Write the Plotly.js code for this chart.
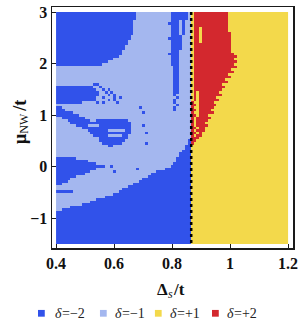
<!DOCTYPE html>
<html><head><meta charset="utf-8">
<script src="https://cdn.plot.ly/plotly-3.0.1.min.js"></script>
<style>html,body{margin:0;padding:0;background:#fff}#chart{width:299px;height:328px}</style>
</head><body><div id="chart"></div>
<script>
// Phase codes: A = δ=−2, B = δ=−1, C = δ=+1, D = δ=+2
const deltaCodes = {A: -2, B: -1, C: 1, D: 2};
const deltaSymbol = 'δ';
const deltaValues = ['=−2', '=−1', '=+1', '=+2'];
const deltaColors = ['#3152ea', '#a4b7ef', '#f3d94b', '#d3282e'];
const xStart = 0.4, xEnd = 1.2;   // Δs/t extent of the scan
const yTop = 3, yBottom = -1.5;   // μNW/t extent of the scan
const transitionDelta = 0.866;    // dotted line Δs/t
const xTicks = [0.4, 0.6, 0.8, 1, 1.2];
const xTickText = ['0.4', '0.6', '0.8', '1', '1.2'];
const yTicks = [-1, 0, 1, 2, 3];
const yTickText = ['−1', '0', '1', '2', '3'];
// Each row: run-length codes across 81 Δs columns, rows from μ=3 (top) down to μ=−1.5 (bottom)
const phaseRows = [
"A28B12A6B1C1D12C21",
"A28B12A6B1C1D12C21",
"A28B12A6B1C1D12C21",
"A27B13A3B1A1B2C1D12C21",
"A27B12A4B1A1B2C1D12C21",
"A27B13A3B1A1B2C1D12C21",
"A27B13A3B1A1B2C1D2C1D9C21",
"A27B13A3B1A1B2C1D2C1D9C21",
"A27B13A3B1A1B2C1D2C1D10C20",
"A26B14A4B3C1D2C1D10C20",
"A26B13A5B3C1D2C1D10C20",
"A25B15A4B3C1D2C1D10C20",
"A25B15A4B3C1D13C20",
"A24B16A4B3C1D13C20",
"A24B16A4B3C1D13C20",
"A23B17A3B4C1D13C20",
"A23B16A4B4C1D14C19",
"A22B18A3B4C1D15C18",
"A20B20A3B4C1D14C19",
"A18B22A3B4C1D15C18",
"A16B24A3B4C1D14C19",
"B41A2B4C1D15C18",
"B41A2B4C1D13C20",
"B41A2B4C1D14C19",
"B41A2B4C1D12C21",
"B41A2B4C1D13C20",
"B41A2B4C1D11C22",
"B41A2B4C1D12C21",
"B13A2B26A2B4C1D10C23",
"A13B2A1B25A2B4C1D11C22",
"A14B2A1B1A1B22A2B4C1D10C23",
"A15B2A1B1A1B21A2B4C1D1C1D7C24",
"A15B3A1B1A1B20A1B5C1D1C1D8C23",
"A14B2A1B3A1B1A1B19A1B4C1D1C1D6C25",
"A14B4A1B1A1B20A1B5C1D1C1D7C24",
"A9B5A1B1A1B4A1B19A1B5D1C2D5C26",
"B42A1B4D2C1D6C25",
"A2B27A1B11A1B5D1C2D5C26",
"A3B38A1B5D2C1D4C27",
"A6B24A1B16D1C2D5C26",
"A8B39D2C1D3C28",
"B2A8B37D1C1D5C27",
"B4A8B2A11B22D1C1D4C28",
"B5A21B21D1C1D3C29",
"B7A4B4A11B4A1B16D1C1D4C28",
"B9A17B21D2C1D2C29",
"B11A7B6A2B21D1C1D3C29",
"B12A14B5A1B15D2C1D1C30",
"B13A5B5A2B22D1C1D2C30",
"B15A10B22D3C31",
"B15A9B22A1D2C32",
"B16A7B8A1B14A1D1C33",
"B18A2B25A2C34",
"B45A2C34",
"B44A3C34",
"B43A4C34",
"B43A4C34",
"A7B35A5C34",
"A11B31A5C34",
"A14B27A6C34",
"A17B2A1B20A7C34",
"A14B14A1B9A9C34",
"A12B8A1B14A12C34",
"A10B23A14C34",
"A7B25A15C34",
"A5B25A17C34",
"A4B25A18C34",
"A2B25A20C34",
"B25A22C34",
"B23A24C34",
"A6B16A25C34",
"B20A27C34",
"B17A30C34",
"B14A33C34",
"B12A35C34",
"B9A38C34",
"B5A42C34",
"B2A45C34",
"A47C34","A47C34","A47C34","A47C34","A47C34","A47C34","A47C34",
"A47C34","A47C34","A47C34","A47C34","A47C34","A47C34"
];

function decodeRow(s) {
  const out = [];
  const re = /([A-D])(\d+)/g; let m;
  while ((m = re.exec(s)) !== null) {
    for (let k = 0; k < +m[2]; k++) out.push(deltaCodes[m[1]]);
  }
  return out;
}
const z = phaseRows.map(decodeRow).reverse(); // bottom row first
const nCols = z[0].length, nRows = z.length;
const dx = (xEnd - xStart) / nCols, dy = (yTop - yBottom) / nRows;

const cs = [
  [0, deltaColors[0]], [0.125, deltaColors[0]],
  [0.125, deltaColors[1]], [0.5, deltaColors[1]],
  [0.5, deltaColors[2]], [0.875, deltaColors[2]],
  [0.875, deltaColors[3]], [1, deltaColors[3]]
];

const trace = {
  type: 'heatmap', z: z,
  x0: xStart + dx / 2, dx: dx, y0: yBottom + dy / 2, dy: dy,
  zmin: -2, zmax: 2, colorscale: cs, showscale: false,
  zsmooth: false, hoverinfo: 'skip'
};

const serif = 'Liberation Serif, Times New Roman, serif';
const tickFont = {family: serif, size: 16, weight: 700, color: '#111'};
const axisCommon = {
  showgrid: false, zeroline: false, showline: true, mirror: true,
  linecolor: '#1a1a1a', linewidth: 1.5, ticks: 'inside', ticklen: 4, tickwidth: 1,
  tickcolor: '#1a1a1a', tickfont: tickFont, tickmode: 'array'
};

// legend key positions (paper fractions)
const legendKeyX = [-0.058, 0.199, 0.427, 0.664];
const legendTextX = [0.004, 0.253, 0.481, 0.718];
const legendY = -0.271, keySize = 0.028, symbolWidth = 0.03;

const ann = (o) => Object.assign({xref: 'paper', yref: 'paper', showarrow: false, yanchor: 'middle'}, o);
const boldFont = {family: serif, size: 17, weight: 700, color: '#111'};
const boldFontY = {family: serif, size: 18, weight: 700, color: '#111'};

const annotations = [];
deltaValues.forEach((v, k) => {
  annotations.push(ann({x: legendTextX[k], y: legendY, xanchor: 'left', text: deltaSymbol,
    font: {family: serif, size: 14, style: 'italic', color: '#222'}}));
  annotations.push(ann({x: legendTextX[k] + symbolWidth, y: legendY, xanchor: 'left', text: v,
    font: {family: serif, size: 14, color: '#222'}}));
});
// x-axis title  Δ_s/t
annotations.push(ann({x: 0.49, y: -0.172, xanchor: 'right', text: 'Δ', font: boldFont}));
annotations.push(ann({x: 0.473, y: -0.19, xanchor: 'left', text: 's',
  font: {family: serif, size: 12, style: 'italic', color: '#111'}}));
annotations.push(ann({x: 0.494, y: -0.172, xanchor: 'left', text: '/t', font: boldFont}));
// y-axis title  μ_NW/t (rotated)
annotations.push(ann({x: -0.133, y: 0.452, xanchor: 'center', textangle: -90, text: 'μ', font: boldFontY}));
annotations.push(ann({x: -0.117, y: 0.519, xanchor: 'center', textangle: -90, text: 'NW',
  font: {family: serif, size: 12, color: '#111'}}));
annotations.push(ann({x: -0.133, y: 0.59, xanchor: 'center', textangle: -90, text: '/t', font: boldFontY}));

const shapes = [{
  type: 'line', xref: 'x', yref: 'y', x0: transitionDelta, x1: transitionDelta, y0: yTop, y1: yBottom,
  line: {color: '#000', width: 2.5, dash: 'dot'}
}];
deltaColors.forEach((c, k) => shapes.push({
  type: 'rect', xref: 'paper', yref: 'paper',
  x0: legendKeyX[k], x1: legendKeyX[k] + keySize, y0: legendY - keySize / 2, y1: legendY + keySize / 2,
  fillcolor: c, line: {width: 0}
}));

const layout = {
  width: 299, height: 328,
  margin: {l: 52, r: 6, t: 7, b: 80},
  paper_bgcolor: '#fff', plot_bgcolor: '#fff',
  showlegend: false,
  xaxis: Object.assign({}, axisCommon, {
    range: [0.386, 1.217], tickvals: xTicks, ticktext: xTickText
  }),
  yaxis: Object.assign({}, axisCommon, {
    range: [-1.578, 3.097], tickvals: yTicks, ticktext: yTickText
  }),
  shapes: shapes,
  annotations: annotations
};

Plotly.newPlot('chart', [trace], layout, {displayModeBar: false, staticPlot: true});
</script></body></html>
